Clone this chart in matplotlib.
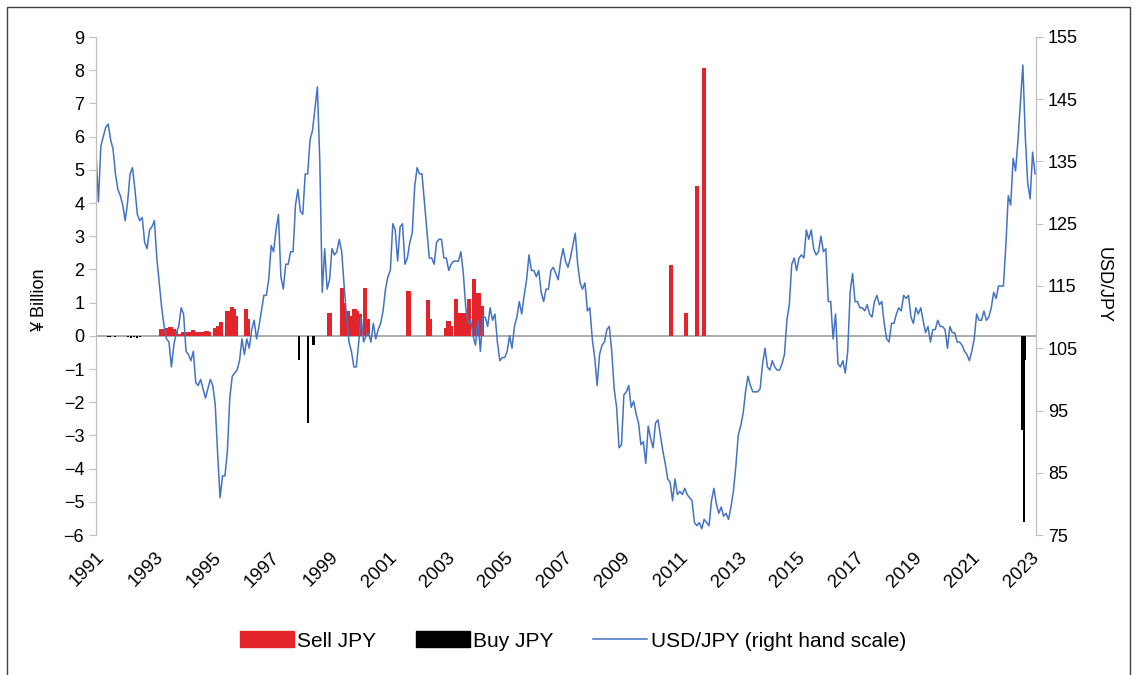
import numpy as np
import matplotlib.pyplot as plt
from matplotlib.patches import Patch, Rectangle
from matplotlib.lines import Line2D

plt.rcParams['font.family'] = ['Liberation Sans', 'DejaVu Sans']


# USD/JPY, one reading per month, Jan 1991 - Mar 2023
usdjpy_1991_1999 = [
    136.5, 128.5, 137.5, 139.0, 140.5, 141.0, 138.5, 137.0, 133.0, 130.5, 129.5, 128.0,
    125.5, 128.5, 133.0, 134.0, 130.5, 126.5, 125.5, 126.0, 122.0, 121.0, 124.0, 124.5,
    125.5, 119.5, 115.5, 111.5, 108.5, 106.5, 106.0, 102.0, 105.5, 107.5, 108.5, 111.5,
    110.5, 104.5, 104.0, 103.0, 104.5, 99.5, 99.0, 100.0, 98.5, 97.0, 98.5, 100.0,
    99.0, 96.0, 88.0, 81.0, 84.5, 84.5, 88.5, 97.0, 100.5, 101.0, 101.5, 103.0,
    106.5, 104.0, 106.5, 105.0, 108.0, 109.5, 106.5, 108.5, 111.0, 113.5, 113.5, 116.0,
    121.5, 120.5, 124.0, 126.5, 116.5, 114.5, 118.5, 118.5, 120.5, 120.5, 128.0, 130.5,
    127.0, 126.5, 133.0, 133.0, 138.5, 140.0, 143.5, 147.0, 135.0, 114.0, 121.0, 114.5,
    116.0, 121.0, 120.0, 120.5, 122.5, 120.5, 115.0, 110.0, 106.0, 104.5, 102.0, 102.0,
]
usdjpy_2000_2009 = [
    106.0, 110.0, 106.0, 107.0, 107.5, 106.0, 109.0, 106.5, 108.0, 109.0, 111.0, 114.5,
    116.5, 117.5, 125.0, 124.0, 119.0, 124.5, 125.0, 118.5, 119.5, 122.0, 123.5, 131.0,
    134.0, 133.0, 133.0, 128.5, 124.0, 119.5, 119.5, 118.5, 122.0, 122.5, 122.5, 119.5,
    119.5, 117.5, 118.5, 119.0, 119.0, 119.0, 120.5, 117.0, 111.5, 109.0, 109.5, 107.0,
    105.5, 109.5, 104.5, 110.0, 110.0, 108.5, 111.5, 109.5, 110.5, 106.0, 103.0, 103.5,
    103.5, 104.5, 107.0, 105.0, 108.5, 110.0, 112.5, 110.5, 113.5, 116.0, 120.0, 117.5,
    117.5, 116.5, 117.5, 114.0, 112.5, 114.5, 114.5, 117.5, 118.0, 117.0, 116.0, 119.0,
    121.0, 119.0, 118.0, 119.5, 121.5, 123.5, 118.5, 115.5, 114.5, 115.5, 111.0, 111.5,
    106.5, 103.5, 99.0, 104.0, 105.5, 106.0, 108.0, 108.5, 104.5, 98.5, 95.5, 89.0,
    89.5, 97.5, 98.0, 99.0, 95.5, 96.5, 94.5, 93.0, 89.5, 90.0, 86.5, 92.5,
]
usdjpy_2010_2023 = [
    90.5, 89.0, 93.0, 93.5, 91.0, 88.5, 86.5, 84.0, 83.5, 80.5, 84.0, 81.5,
    82.0, 81.5, 82.5, 81.5, 81.0, 80.5, 77.0, 76.5, 77.0, 76.0, 77.5, 77.0,
    76.5, 80.5, 82.5, 80.0, 78.5, 79.5, 78.0, 78.5, 77.5, 79.5, 82.0, 86.0,
    91.0, 92.5, 94.5, 98.0, 100.5, 99.0, 98.0, 98.0, 98.0, 98.5, 102.5, 105.0,
    102.0, 101.5, 103.0, 102.0, 101.5, 101.5, 102.5, 104.0, 109.5, 112.0, 118.5, 119.5,
    117.5, 119.5, 120.0, 119.5, 124.0, 122.5, 124.0, 121.0, 120.0, 120.5, 123.0, 120.5,
    121.0, 112.5, 112.5, 106.5, 110.5, 102.5, 102.0, 103.0, 101.0, 104.5, 114.0, 117.0,
    112.5, 112.5, 111.5, 111.5, 111.0, 112.0, 110.5, 110.0, 112.5, 113.5, 112.0, 112.5,
    109.0, 106.5, 106.0, 109.0, 109.0, 110.5, 111.5, 111.0, 113.5, 113.0, 113.5, 110.0,
    109.0, 111.5, 110.5, 111.5, 109.5, 107.5, 108.5, 106.0, 108.0, 108.0, 109.5, 108.5,
    108.5, 108.0, 105.0, 108.5, 107.5, 107.5, 106.0, 106.0, 105.5, 104.5, 104.0, 103.0,
    104.5, 106.5, 110.5, 109.5, 109.5, 111.0, 109.5, 110.0, 111.5, 114.0, 113.0, 115.0,
    115.0, 115.0, 121.5, 129.5, 128.0, 135.5, 133.5, 138.5, 144.5, 150.5, 139.0, 131.5,
    129.0, 136.5, 133.0,
]
usdjpy = usdjpy_1991_1999 + usdjpy_2000_2009 + usdjpy_2010_2023

# Intervention dates (decimal year) and amounts
sell_dates = [1993.25, 1993.33, 1993.45, 1993.55, 1993.65, 1993.72, 1993.85,
              1994.0, 1994.1, 1994.2, 1994.32, 1994.42, 1994.5, 1994.6, 1994.7, 1994.78, 1994.87,
              1995.1, 1995.2, 1995.28, 1995.5, 1995.58, 1995.65, 1995.72, 1995.78,
              1996.13, 1996.2,
              1999.0, 1999.42, 1999.5, 1999.62, 1999.68, 1999.85, 1999.93, 2000.02,
              2000.22, 2000.3, 2001.7, 2002.37, 2002.43,
              2003.0, 2003.08, 2003.17, 2003.33, 2003.48, 2003.58, 2003.65, 2003.77,
              2003.95, 2004.02, 2004.13, 2004.2,
              2010.7, 2011.21, 2011.59, 2011.83]
sell_amounts = [0.2, 0.2, 0.25, 0.27, 0.2, 0.15, 0.05,
                0.1, 0.1, 0.12, 0.17, 0.1, 0.12, 0.1, 0.12, 0.15, 0.1,
                0.25, 0.3, 0.42, 0.75, 0.6, 0.87, 0.8, 0.6,
                0.8, 0.5,
                0.7, 1.45, 1.0, 0.75, 0.6, 0.8, 0.75, 0.65,
                1.43, 0.5, 1.35, 1.08, 0.5,
                0.25, 0.45, 0.3, 1.1, 0.7, 0.6, 0.7, 1.1,
                1.7, 1.3, 1.3, 0.9,
                2.12, 0.69, 4.51, 8.07]

buy_dates = [1991.4, 1991.47, 1991.65, 1992.1, 1992.2, 1992.3, 1992.4, 1992.5,
             1997.95, 1998.27, 1998.45, 2022.72, 2022.80, 2022.81]
buy_amounts = [-0.04, -0.03, -0.03, -0.05, -0.06, -0.05, -0.06, -0.04,
               -0.74, -2.62, -0.27, -2.84, -5.62, -0.73]

year_ticks = list(range(1991, 2024, 2))


# Plotting Graph
fig = plt.figure(figsize=(11.36, 6.75), dpi=100)
ax = fig.add_axes([96/1136, 1 - 535/675, (1036 - 96)/1136, (535 - 37)/675])
ax2 = ax.twinx()

ax.axhline(0, color='#A6A6A6', lw=1.3, zorder=1)
ax.bar(sell_dates, sell_amounts, width=0.15, color='#E3242B', zorder=2)
ax.bar(buy_dates, buy_amounts, width=0.07, color='black', zorder=2)

months = 1991 + np.arange(len(usdjpy)) / 12
ax2.plot(months, usdjpy, color='#4472C4', lw=1.1)

ax.set_xlim(1991, 2023.2)
ax.set_ylim(-6, 9)
ax.set_yticks(range(-6, 10))
ax2.set_ylim(75, 155)
ax2.set_yticks(range(75, 156, 10))

ax.set_xticks(year_ticks)
ax.set_xticklabels([str(y) for y in year_ticks], rotation=45, ha='right', rotation_mode='anchor')
ax.tick_params(axis='x', length=0, pad=10, labelsize=13.5)
ax.tick_params(axis='y', colors='#BFBFBF', labelcolor='black', labelsize=13, length=5)
ax2.tick_params(axis='y', colors='#BFBFBF', labelcolor='black', labelsize=13, length=5)

for a in (ax, ax2):
    a.spines['top'].set_visible(False)
    a.spines['bottom'].set_visible(False)
    a.spines['left'].set_color('#BFBFBF')
    a.spines['right'].set_color('#BFBFBF')

fig.text(40/1136, 1 - 300/675, '¥ Billion', rotation=90, ha='center', va='center', fontsize=13)
fig.text(1103/1136, 1 - 285/675, 'USD/JPY', rotation=270, ha='center', va='center', fontsize=13)

handles = [Patch(color='#E3242B', label='Sell JPY'),
           Patch(color='black', label='Buy JPY'),
           Line2D([], [], color='#4472C4', lw=1.1, label='USD/JPY (right hand scale)')]
fig.legend(handles=handles, loc='center', bbox_to_anchor=(573/1136, 1 - 641/675), ncol=3,
           frameon=False, fontsize=15, handlelength=2.6, handleheight=0.8,
           handletextpad=0.15, columnspacing=1.9)

# outer frame
fig.add_artist(Rectangle((7/1136, -0.01), (1130 - 7)/1136, 1.01 - 7/675,
                         transform=fig.transFigure, fill=False, edgecolor='#404040', lw=1))

fig.savefig('out.png', dpi=100)
